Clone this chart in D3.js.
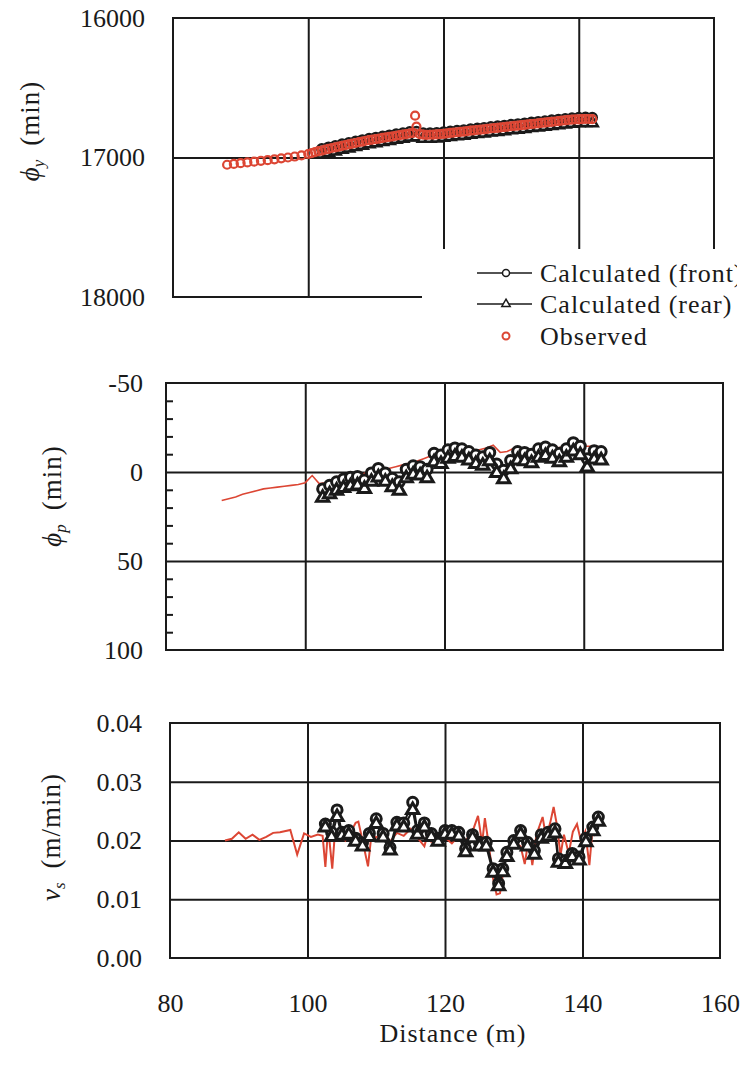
<!DOCTYPE html>
<html>
<head>
<meta charset="utf-8">
<script src="https://cdn.jsdelivr.net/npm/d3@7"></script>
<style>
  body { margin: 0; background: #fff; }
  svg text { font-family: "Liberation Serif", "Times New Roman", serif; fill: #1a1a1a; }
</style>
</head>
<body>
<script>
// ---- data ----
var xTicks = [80, 100, 120, 140, 160];
var gridX = [100, 120, 140];

// panel 1 : phi_y (min), axis reversed
var p1Ticks = [16000, 17000, 18000];
var obs1D = [88, 89, 90, 91, 92, 93, 94, 95, 96, 97, 98, 99,
  100, 100.5, 101, 101.5, 102, 102.5, 103, 103.5, 104, 104.5, 105, 105.5, 106, 106.5, 107, 107.5,
  108, 108.5, 109, 109.5, 110, 110.5, 111, 111.5, 112, 112.5, 113, 113.5, 114, 114.5, 115, 115.5,
  115.8, 116,
  116.5, 117, 117.5, 118, 118.5, 119, 119.5, 120, 120.5, 121, 121.5, 122, 122.5, 123, 123.5, 124,
  124.5, 125, 125.5, 126, 126.5, 127, 127.5, 128, 128.5, 129, 129.5, 130, 130.5, 131, 131.5, 132,
  132.5, 133, 133.5, 134, 134.5, 135, 135.5, 136, 136.5, 137, 137.5, 138, 138.5, 139, 139.5, 140,
  140.5, 141, 141.5, 142];
var obs1V = [17052, 17046, 17041, 17035, 17030, 17024, 17019, 17013, 17006, 17000, 16993, 16985,
  16975, 16968, 16962, 16955, 16950, 16944, 16938, 16932, 16928, 16922, 16916, 16912, 16906, 16900, 16896, 16890,
  16886, 16880, 16876, 16872, 16868, 16864, 16860, 16856, 16852, 16848, 16844, 16840, 16836, 16832, 16828, 16824,
  16700, 16778,
  16832, 16836, 16838, 16837, 16836, 16834, 16832, 16830, 16827, 16824, 16822, 16819, 16816, 16814, 16811, 16808,
  16806, 16803, 16800, 16798, 16795, 16792, 16790, 16787, 16784, 16782, 16779, 16776, 16774, 16771, 16768, 16766,
  16763, 16760, 16758, 16755, 16752, 16750, 16747, 16744, 16742, 16739, 16736, 16734, 16731, 16729, 16727, 16726,
  16725, 16724, 16724, 16725];
var calc1D = [102, 103, 104, 105, 106, 107, 108, 109, 110, 111, 112, 113, 114, 115, 116, 117, 118, 119, 120, 121,
  122, 123, 124, 125, 126, 127, 128, 129, 130, 131, 132, 133, 134, 135, 136, 137, 138, 139, 140, 141, 142];
var front1 = [16938, 16926, 16916, 16904, 16894, 16884, 16874, 16864, 16856, 16848, 16840, 16832, 16824, 16816,
  16813, 16824, 16825, 16822, 16818, 16812, 16807, 16802, 16796, 16791, 16786, 16780, 16775, 16770, 16764, 16759,
  16754, 16748, 16743, 16738, 16732, 16727, 16722, 16717, 16714, 16712, 16713];
var rear1 = [16978, 16966, 16956, 16944, 16934, 16924, 16914, 16904, 16896, 16888, 16880, 16872, 16864, 16856,
  16853, 16864, 16865, 16862, 16858, 16852, 16847, 16842, 16836, 16831, 16826, 16820, 16815, 16810, 16804, 16799,
  16794, 16788, 16783, 16778, 16772, 16767, 16762, 16757, 16754, 16752, 16753];

// panel 2 : phi_p (min), axis reversed
var p2Ticks = [-50, 0, 50, 100];
var p2Minor = [-40, -30, -20, -10, 10, 20, 30, 40, 60, 70, 80, 90];
var obs2D = [88, 89, 90, 91, 92, 93, 94, 95, 96, 97, 98, 99, 100, 101, 102, 103, 104, 105, 106, 107, 108, 109,
  110, 111, 112, 113, 114, 115, 116, 117, 118, 119, 120, 121, 122, 123, 124, 125, 126, 127, 128, 129, 130, 131,
  132, 133, 134, 135, 136, 137, 138, 139, 140, 141, 142];
var obs2V = [16, 15, 14, 12.5, 11.5, 10.5, 9.5, 9, 8.5, 8, 7.5, 7, 6, 2, 6.5, 6, 4, 2, 1.5, 2, 1.5, 0,
  -1, -1.5, -2, -3, -4, -5, -6, -7.5, -9, -10, -10.5, -11, -11.5, -12, -12.5, -12.5, -13.5, -15, -11, -11.5,
  -13.5, -13.5, -12.5, -12.5, -13, -13.5, -13.5, -14, -14, -14.5, -14.5, -14.5, -14.5];
var calc2D = [102.5, 103.5, 104.5, 105.5, 106.5, 107.5, 108.5, 109.5, 110.5, 111.5, 112.5, 113.5, 114.5, 115.5,
  116.5, 117.5, 118.5, 119.5, 120.5, 121.5, 122.5, 123.5, 124.5, 125.5, 126.5, 127.5, 128.5, 129.5, 130.5, 131.5,
  132.5, 133.5, 134.5, 135.5, 136.5, 137.5, 138.5, 139.5, 140.5, 141.5, 142.5];
var front2 = [9.5, 7.5, 5.5, 4, 3, 2.5, 4.5, 0.5, -2, 0.5, 3.5, 5.5, -1.5, -3.5, -3, -1.5, -10.5, -9.5, -12.5,
  -13.5, -13, -11.5, -9.5, -8.5, -11, -4.5, -1, -6.5, -11.5, -11, -10, -13, -14, -12.5, -10.5, -13, -16.5, -14.5,
  -7.5, -12, -11.5];
var rear2 = [14.5, 12.5, 10.5, 9, 8, 7.5, 9.5, 5.5, 3, 5.5, 8.5, 10.5, 3.5, 1.5, 2, 3.5, -5.5, -4.5, -7.5,
  -8.5, -8, -6.5, -4.5, -3.5, -6, 0.5, 4, -1.5, -6.5, -6, -5, -8, -9, -7.5, -5.5, -8, -11.5, -9.5,
  -2.5, -7, -6.5];

// panel 3 : v_s (m/min)
var p3Ticks = [0, 0.01, 0.02, 0.03, 0.04];
var obs3D = [88, 89, 90, 91, 92, 93, 94, 95, 96, 97.5, 98.5, 99.5, 100.5, 101.5, 102.2, 102.6, 103, 103.6, 104,
  104.8, 105.5, 106.2, 107, 107.4, 108, 108.8, 109.3, 110, 111, 112, 113, 114, 115, 116, 117, 117.5, 118, 119,
  120, 121, 122, 123, 124, 124.8, 125.4, 125.8, 126.4, 127, 127.5, 128, 128.5, 129, 130, 131, 131.6, 132.2,
  132.7, 133.3, 134.2, 134.7, 135.3, 135.8, 136.3, 136.8, 137.3, 138, 138.6, 139.2, 139.8, 140.4, 141, 141.4, 141.8];
var obs3V = [.0200, .0203, .0214, .0203, .0210, .0201, .0206, .0213, .0214, .0218, .0176, .0212, .0206, .0210,
  .0208, .0155, .0222, .0152, .0215, .0210, .0200, .0212, .0230, .0232, .0200, .0156, .0210, .0205, .0215, .0198,
  .0213, .0208, .0220, .0205, .0190, .0212, .0198, .0212, .0205, .0195, .0208, .0200, .0215, .0242, .0195, .0238,
  .0190, .0135, .0108, .0110, .0150, .0180, .0198, .0190, .0160, .0205, .0158, .0210, .0240, .0205, .0230, .0257,
  .0225, .0175, .0210, .0178, .0215, .0228, .0198, .0215, .0158, .0212, .0208];
var calc3D = [102.6, 103.5, 104.3, 105, 106, 107, 108, 109, 110, 111, 112, 113, 114, 115.3, 116, 117, 118, 119,
  120, 121, 122, 123, 124, 125, 126, 127, 127.8, 128.4, 129, 130, 131, 132, 133, 134, 135, 136, 136.5, 137.5,
  138.5, 139.5, 140.5, 141.5, 142.3];
var front3 = [.0228, .0214, .0252, .0214, .0217, .0204, .0196, .0212, .0237, .0212, .0188, .0231, .0230, .0265,
  .0217, .0230, .0212, .0204, .0217, .0217, .0214, .0186, .0210, .0197, .0197, .0152, .0127, .0152, .0180, .0200,
  .0217, .0197, .0183, .0210, .0214, .0220, .0169, .0166, .0178, .0172, .0204, .0223, .0240];
var rear3 = [.0222, .0206, .0240, .0208, .0210, .0198, .0190, .0206, .0228, .0205, .0183, .0224, .0222, .0252,
  .0210, .0222, .0206, .0198, .0210, .0210, .0207, .0180, .0204, .0190, .0190, .0145, .0122, .0146, .0172, .0193,
  .0210, .0190, .0176, .0203, .0207, .0212, .0162, .0160, .0172, .0166, .0197, .0216, .0232];

var legendLabels = ["Calculated (front)", "Calculated (rear)", "Observed"];

// ---- drawing ----
var ink = "#1a1a1a";
var red = "#dc4634";

var svg = d3.select("body").append("svg")
  .attr("width", 749)
  .attr("height", 1079);

svg.append("rect").attr("width", 749).attr("height", 1079).attr("fill", "#fff");

function pairs(D, V) { return D.map((d, i) => [d, V[i]]); }

// builds one panel frame with grid and y labels
function panel(p) {
  var x = d3.scaleLinear().domain([80, 160]).range([p.left, p.right]);
  var y = d3.scaleLinear().domain(p.domain).range([p.top, p.bottom]);
  var g = svg.append("g");

  g.append("g").attr("class", "grid")
    .attr("transform", `translate(0,${p.bottom})`)
    .call(d3.axisBottom(x).tickValues(gridX).tickSize(-(p.bottom - p.top)).tickFormat(""));
  g.append("g").attr("class", "grid")
    .attr("transform", `translate(${p.left},0)`)
    .call(d3.axisLeft(y).tickValues(p.grid).tickSize(-(p.right - p.left)).tickFormat(""));

  if (p.minor) {
    g.append("g").attr("class", "grid")
      .attr("transform", `translate(${p.left},0)`)
      .call(d3.axisRight(y).tickValues(p.minor).tickSize(7).tickFormat(""));
  }
  g.selectAll(".grid .domain").remove();
  g.selectAll(".grid line").attr("stroke", ink).attr("stroke-width", 2);

  var lab = g.append("g")
    .attr("transform", `translate(${p.left},0)`)
    .call(d3.axisLeft(y).tickValues(p.ticks).tickSize(0).tickPadding(p.pad).tickFormat(p.fmt));
  lab.select(".domain").remove();
  lab.selectAll("text")
    .attr("font-size", 26)
    .style("font-family", '"Liberation Serif", serif')
    .attr("fill", ink);

  g.append("rect")
    .attr("x", p.left).attr("y", p.top)
    .attr("width", p.right - p.left).attr("height", p.bottom - p.top)
    .attr("fill", "none").attr("stroke", ink).attr("stroke-width", 2);

  return { x: x, y: y, g: g };
}

function drawCalc(P, D, front, rear, r, sw) {
  var line = d3.line().x(d => P.x(d[0])).y(d => P.y(d[1]));
  var f = pairs(D, front), b = pairs(D, rear);
  P.g.append("path").datum(f).attr("d", line).attr("fill", "none").attr("stroke", ink).attr("stroke-width", 2);
  P.g.append("path").datum(b).attr("d", line).attr("fill", "none").attr("stroke", ink).attr("stroke-width", 2);
  P.g.selectAll(null).data(f).enter().append("circle")
    .attr("cx", d => P.x(d[0])).attr("cy", d => P.y(d[1])).attr("r", r)
    .attr("fill", "#fff").attr("stroke", ink).attr("stroke-width", sw);
  P.g.selectAll(null).data(b).enter().append("path")
    .attr("d", d3.symbol(d3.symbolTriangle, r * r * 2.6))
    .attr("transform", d => `translate(${P.x(d[0])},${P.y(d[1])})`)
    .attr("fill", "#fff").attr("stroke", ink).attr("stroke-width", sw);
}

function drawObsLine(P, D, V, w) {
  P.g.append("path").datum(pairs(D, V))
    .attr("d", d3.line().x(d => P.x(d[0])).y(d => P.y(d[1])))
    .attr("fill", "none").attr("stroke", red).attr("stroke-width", w);
}

// Panel 1
var P1 = panel({ left: 173, right: 714, top: 18, bottom: 297, domain: [16000, 18000],
  grid: [17000], ticks: p1Ticks, pad: 28, fmt: d => String(d) });
drawCalc(P1, calc1D, front1, rear1, 4.5, 2.5);
P1.g.selectAll(null).data(pairs(obs1D, obs1V)).enter().append("circle")
  .attr("cx", d => P1.x(d[0])).attr("cy", d => P1.y(d[1])).attr("r", 4)
  .attr("fill", "none").attr("stroke", red).attr("stroke-width", 2.2);

// legend (white box covering lower right of panel 1)
svg.append("clipPath").attr("id", "legclip")
  .append("rect").attr("x", 422).attr("y", 249).attr("width", 315).attr("height", 100);
var leg = svg.append("g").attr("clip-path", "url(#legclip)");
leg.append("rect").attr("x", 422).attr("y", 249).attr("width", 327).attr("height", 100).attr("fill", "#fff");
var legY = [273, 304, 336];
legendLabels.forEach(function (t, i) {
  if (i < 2) {
    leg.append("line").attr("x1", 477).attr("x2", 532).attr("y1", legY[i]).attr("y2", legY[i])
      .attr("stroke", ink).attr("stroke-width", 1.5);
  }
  if (i === 0) {
    leg.append("circle").attr("cx", 506).attr("cy", legY[i]).attr("r", 3.5)
      .attr("fill", "#fff").attr("stroke", ink).attr("stroke-width", 1.5);
  } else if (i === 1) {
    leg.append("path").attr("d", d3.symbol(d3.symbolTriangle, 30))
      .attr("transform", `translate(506,${legY[i]})`)
      .attr("fill", "#fff").attr("stroke", ink).attr("stroke-width", 1.5);
  } else {
    leg.append("circle").attr("cx", 506).attr("cy", legY[i]).attr("r", 3.5)
      .attr("fill", "none").attr("stroke", red).attr("stroke-width", 2);
  }
  leg.append("text").attr("x", 540).attr("y", legY[i] + 9)
    .attr("font-size", 26).attr("letter-spacing", 1).text(t);
});

// Panel 2
var P2 = panel({ left: 166, right: 723, top: 383, bottom: 650, domain: [-50, 100],
  grid: [0, 50], minor: p2Minor, ticks: p2Ticks, pad: 23, fmt: d => String(d) });
drawObsLine(P2, obs2D, obs2V, 1.6);
drawCalc(P2, calc2D, front2, rear2, 5, 3);

// Panel 3
var P3 = panel({ left: 170, right: 720, top: 723, bottom: 958, domain: [0.04, 0],
  grid: [0.01, 0.02, 0.03], ticks: p3Ticks, pad: 28, fmt: d3.format(".2f") });
drawObsLine(P3, obs3D, obs3V, 2);
drawCalc(P3, calc3D, front3, rear3, 5, 3);

// x axis labels under panel 3
var xa = svg.append("g")
  .attr("transform", `translate(0,${958})`)
  .call(d3.axisBottom(P3.x).tickValues(xTicks).tickSize(0).tickPadding(36).tickFormat(d => String(d)));
xa.select(".domain").remove();
xa.selectAll("text").attr("font-size", 26).style("font-family", '"Liberation Serif", serif').attr("fill", ink);

svg.append("text").attr("x", 453).attr("y", 1042).attr("text-anchor", "middle")
  .attr("font-size", 26).attr("letter-spacing", 1).text("Distance (m)");

// y axis titles (rotated)
function yTitle(cx, cy, sym, sub, unit) {
  var t = svg.append("text")
    .attr("transform", `translate(${cx},${cy}) rotate(-90)`)
    .attr("text-anchor", "middle")
    .attr("font-size", 27);
  t.append("tspan").attr("font-style", "italic").text(sym);
  t.append("tspan").attr("font-style", "italic").attr("font-size", 17).attr("dy", 5).text(sub);
  t.append("tspan").attr("dy", -5).attr("dx", 14).attr("letter-spacing", 1).text(unit);
}
yTitle(39, 131, "\u03d5", "y", "(min)");
yTitle(61, 496, "\u03d5", "p", "(min)");
yTitle(60, 837, "v", "s", "(m/min)");
</script>
</body>
</html>
